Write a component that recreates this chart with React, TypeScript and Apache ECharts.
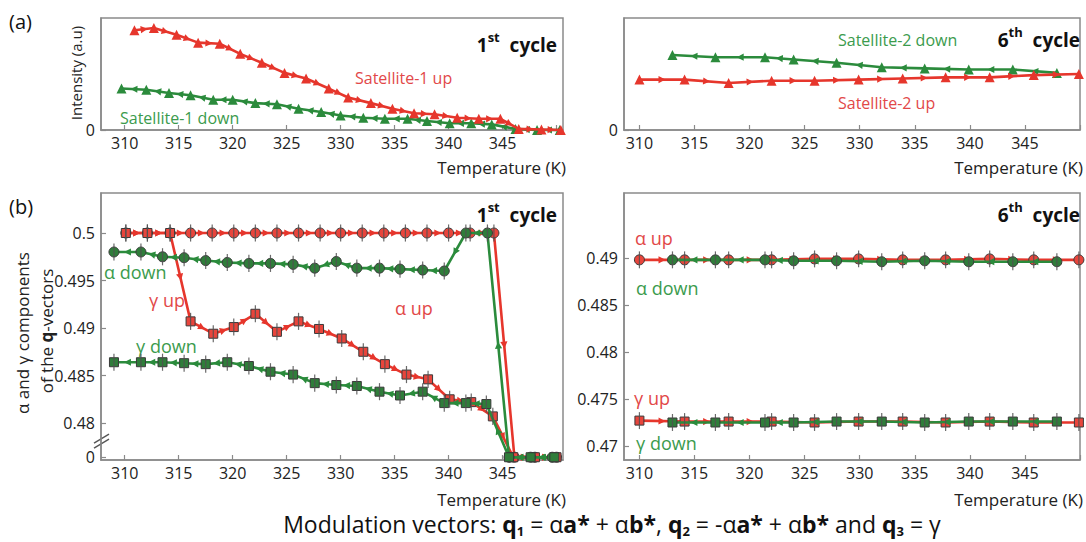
import React, { useEffect, useRef } from 'react';
import * as echarts from 'echarts';

const FONT = '"Open Sans", "Noto Sans", sans-serif';
const RED = '#e6362c';
const GREEN = '#2b8b3c';
const RED_FILL = '#e8453c';
const GREEN_FILL = '#2f7d3a';
const RED_TEXT = '#e24848';
const GREEN_TEXT = '#3b9b4d';
const AXIS = '#8a8a8a';
const MARK_EDGE = '#3a3a3a';

// x axis ticks (Temperature, K)
const xTickLabels = [310, 315, 320, 325, 330, 335, 340, 345];
const xTickMarks = [310, 315, 320, 325, 330, 335, 340, 345, 350];

// (a) 1st cycle — intensity (a.u.)
const sat1UpT = [310.9, 312.7, 314.8, 316.8, 318.8, 320.7, 322.7, 324.8, 326.8, 328.9, 330.7, 332.8, 334.8, 336.8, 338.7, 340.8, 342.8, 344.8, 346.5, 348.6, 350.4];
const sat1UpI = [0.89, 0.91, 0.85, 0.78, 0.77, 0.68, 0.6, 0.51, 0.46, 0.37, 0.29, 0.24, 0.19, 0.15, 0.14, 0.11, 0.1, 0.1, 0.01, 0.005, 0.0];
const sat1DownT = [309.7, 312.0, 314.1, 316.1, 318.2, 320.0, 322.1, 324.1, 326.1, 328.2, 330.0, 332.1, 334.1, 336.2, 338.0, 340.1, 342.1, 344.0, 346.2, 348.2, 350.3];
const sat1DownI = [0.37, 0.36, 0.33, 0.31, 0.27, 0.27, 0.24, 0.23, 0.19, 0.16, 0.13, 0.11, 0.1, 0.1, 0.08, 0.06, 0.06, 0.05, 0.01, 0.0, 0.0];

// (a) 6th cycle
const sat2DownT = [313.0, 316.9, 321.4, 324.0, 327.9, 332.0, 335.9, 339.9, 343.9, 347.9];
const sat2DownI = [0.67, 0.65, 0.65, 0.63, 0.6, 0.56, 0.55, 0.54, 0.54, 0.51];
const sat2UpT = [310.0, 314.1, 318.1, 322.0, 325.9, 329.9, 333.9, 337.8, 341.8, 345.8, 349.9];
const sat2UpI = [0.45, 0.45, 0.42, 0.44, 0.44, 0.45, 0.46, 0.47, 0.47, 0.49, 0.5];

// (b) 1st cycle — alpha / gamma components (0 = below axis break)
const alphaUpT = [310.1, 312.1, 314.2, 316.1, 318.1, 320.1, 322.1, 324.1, 326.1, 328.1, 330.0, 332.0, 334.0, 336.0, 338.0, 340.0, 342.0, 344.2, 346.1, 348.0, 350.0];
const alphaUpV = [0.5, 0.5, 0.5, 0.5, 0.5, 0.5, 0.5, 0.5, 0.5, 0.5, 0.5, 0.5, 0.5, 0.5, 0.5, 0.5, 0.5, 0.5, 0, 0, 0];
const gammaUpT = [310.1, 312.1, 314.2, 316.1, 318.2, 320.1, 322.1, 324.1, 326.1, 328.0, 330.1, 332.1, 334.1, 336.1, 338.1, 340.1, 342.1, 344.1, 346.0, 348.0, 350.0];
const gammaUpV = [0.5, 0.5, 0.5, 0.4907, 0.4894, 0.4901, 0.4915, 0.4896, 0.4907, 0.4899, 0.4889, 0.4875, 0.4862, 0.4851, 0.4846, 0.4825, 0.4822, 0.4807, 0, 0, 0];
const alphaDownT = [309.0, 311.5, 313.5, 315.5, 317.5, 319.5, 321.5, 323.5, 325.6, 327.6, 329.6, 331.5, 333.6, 335.5, 337.6, 339.6, 341.6, 343.6, 345.6, 347.6, 349.6];
const alphaDownV = [0.498, 0.498, 0.4975, 0.4974, 0.4971, 0.4969, 0.4968, 0.4968, 0.4967, 0.4963, 0.497, 0.4963, 0.4963, 0.4962, 0.4961, 0.496, 0.5, 0.5, 0, 0, 0];
const gammaDownT = [309.0, 311.5, 313.5, 315.5, 317.5, 319.5, 321.5, 323.5, 325.6, 327.6, 329.6, 331.5, 333.6, 335.5, 337.6, 339.6, 341.6, 343.5, 345.6, 347.6, 349.8];
const gammaDownV = [0.4864, 0.4864, 0.4864, 0.4863, 0.4862, 0.4864, 0.486, 0.4854, 0.4851, 0.4842, 0.484, 0.4839, 0.4833, 0.4829, 0.4833, 0.4821, 0.4821, 0.482, 0, 0, 0];

// (b) 6th cycle
const alpha6UpT = [310.0, 314.1, 318.1, 322.0, 325.9, 329.9, 333.9, 337.8, 341.8, 345.8, 349.9];
const alpha6UpV = [0.4898, 0.4898, 0.4898, 0.4898, 0.4899, 0.4899, 0.4898, 0.4898, 0.4899, 0.4898, 0.4898];
const gamma6UpV = [0.4727, 0.4726, 0.4726, 0.4726, 0.4725, 0.4726, 0.4726, 0.4725, 0.4726, 0.4725, 0.4725];
const alpha6DownT = [313.0, 316.9, 321.4, 324.0, 327.9, 332.0, 335.9, 339.9, 343.9, 347.9];
const alpha6DownV = [0.4898, 0.4898, 0.4898, 0.4897, 0.4897, 0.4896, 0.4897, 0.4896, 0.4896, 0.4896];
const gamma6DownV = [0.4725, 0.4725, 0.4725, 0.4725, 0.4726, 0.4726, 0.4725, 0.4726, 0.4726, 0.4726];

// y tick values
const yTicksB1 = [0.48, 0.485, 0.49, 0.495, 0.5];
const yTicksB6 = [0.47, 0.475, 0.48, 0.485, 0.49];
const ZERO_POS = 0.4764; // where "0" sits below the broken axis
const ERR = 0.0009;

const zip = (t: number[], v: number[]) => t.map((x, i) => [x, v[i]]);
const brk = (pts: number[][]) => pts.map(([x, v]) => [x, v === 0 ? ZERO_POS : v]);
const segs = (pts: number[][]) => pts.slice(1).map((p, i) => [pts[i][0], pts[i][1], p[0], p[1]]);

function lineSeries(pts: number[][], g: number, color: string, fill: string, symbol: string, size: number, edge: boolean, z = 3) {
  return {
    type: 'line', xAxisIndex: g, yAxisIndex: g, data: pts, symbol, symbolSize: size,
    showSymbol: true, clip: false, silent: true, z,
    lineStyle: { color, width: 2.6 },
    itemStyle: { color: fill, borderColor: edge ? MARK_EDGE : fill, borderWidth: edge ? 1 : 0 },
  };
}

function arrowSeries(pts: number[][], g: number, color: string, dir: number, z = 3) {
  return {
    type: 'custom', xAxisIndex: g, yAxisIndex: g, data: segs(pts), silent: true, z,
    encode: { x: [0, 2], y: [1, 3] },
    renderItem: (params: any, api: any) => {
      const p1 = api.coord([api.value(0), api.value(1)]);
      const p2 = api.coord([api.value(2), api.value(3)]);
      const dx = p2[0] - p1[0], dy = p2[1] - p1[1];
      const len = Math.hypot(dx, dy);
      if (len < 13) return null;
      const ux = (dx / len) * dir, uy = (dy / len) * dir;
      const mx = (p1[0] + p2[0]) / 2, my = (p1[1] + p2[1]) / 2;
      const L = 7, W = 3.6;
      const tip = [mx + (ux * L) / 2, my + (uy * L) / 2];
      const bx = mx - (ux * L) / 2, by = my - (uy * L) / 2;
      return {
        type: 'polygon',
        shape: { points: [tip, [bx - uy * W, by + ux * W], [bx + uy * W, by - ux * W]] },
        style: { fill: color },
      };
    },
  };
}

function errSeries(pts: number[][], g: number) {
  return {
    type: 'custom', xAxisIndex: g, yAxisIndex: g, silent: true, z: 6,
    data: pts.filter((p) => p[1] !== ZERO_POS),
    encode: { x: 0, y: 1 },
    renderItem: (params: any, api: any) => {
      const x = api.value(0), y = api.value(1);
      const a = api.coord([x, y + ERR]);
      const b = api.coord([x, y - ERR]);
      return { type: 'line', shape: { x1: a[0], y1: a[1], x2: b[0], y2: b[1] }, style: { stroke: '#505050', lineWidth: 1.2, opacity: 0.85 } };
    },
  };
}

const grids = [
  { left: 101, top: 18, width: 462, height: 112 },
  { left: 624, top: 18, width: 456, height: 112 },
  { left: 101, top: 193, width: 462, height: 267 },
  { left: 624, top: 193, width: 456, height: 267 },
];

function xAxis(g: number, min: number, max: number) {
  return {
    type: 'value', gridIndex: g, min, max,
    axisLine: { show: true, lineStyle: { color: AXIS, width: 1.5 } },
    axisTick: { show: true, inside: true, length: 5, customValues: xTickMarks, lineStyle: { color: AXIS, width: 1.2 } },
    axisLabel: { customValues: xTickLabels, fontSize: 16, color: '#222', fontFamily: FONT, margin: 5 },
    splitLine: { show: false },
  };
}

function yAxis(g: number, min: number, max: number, ticks: number[], fmt: (v: number) => string) {
  return {
    type: 'value', gridIndex: g, min, max,
    axisLine: { show: true, lineStyle: { color: AXIS, width: 1.5 } },
    axisTick: { show: true, inside: true, length: 5, customValues: ticks, lineStyle: { color: AXIS, width: 1.2 } },
    axisLabel: { customValues: ticks, fontSize: 16, color: '#222', fontFamily: FONT, margin: 6, formatter: fmt },
    splitLine: { show: false },
  };
}

const txt = (x: number, y: number, text: string, color: string, opts: any = {}) => ({
  type: 'text', x, y, silent: true,
  style: { text, fill: color, fontSize: 16, fontFamily: FONT, verticalAlign: 'middle', align: 'left', ...opts },
});

const cycleLabel = (xRight: number, y: number, num: string, sup: string) => ({
  type: 'text', x: xRight, y, silent: true,
  style: {
    text: `{a|${num}}{s|${sup}}{a|  cycle}`,
    align: 'right', verticalAlign: 'middle', fontFamily: FONT,
    rich: {
      a: { fontSize: 19, fontWeight: 'bold', fill: '#111', color: '#111', fontFamily: FONT, lineHeight: 24, verticalAlign: 'bottom' },
      s: { fontSize: 13, fontWeight: 'bold', fill: '#111', color: '#111', fontFamily: FONT, lineHeight: 14, verticalAlign: 'top' },
    },
  },
});

export default function App() {
  const ref = useRef<HTMLDivElement>(null);
  useEffect(() => {
    if (!ref.current) return;
    const chart = echarts.init(ref.current, null, { renderer: 'svg' });

    const s1u = zip(sat1UpT, sat1UpI);
    const s1d = zip(sat1DownT, sat1DownI);
    const s2u = zip(sat2UpT, sat2UpI);
    const s2d = zip(sat2DownT, sat2DownI);
    const au = brk(zip(alphaUpT, alphaUpV));
    const gu = brk(zip(gammaUpT, gammaUpV));
    const ad = brk(zip(alphaDownT, alphaDownV));
    const gd = brk(zip(gammaDownT, gammaDownV));
    const a6u = zip(alpha6UpT, alpha6UpV);
    const g6u = zip(alpha6UpT, gamma6UpV);
    const a6d = zip(alpha6DownT, alpha6DownV);
    const g6d = zip(alpha6DownT, gamma6DownV);

    const fmtB1 = (v: number) => (Math.abs(v - ZERO_POS) < 1e-6 ? '0' : String(+v.toFixed(3)));
    const fmtB6 = (v: number) => String(+v.toFixed(3));

    const option: any = {
      animation: false,
      textStyle: { fontFamily: FONT },
      grid: grids.map((g) => ({ ...g, show: true, borderColor: AXIS, borderWidth: 1.5, backgroundColor: 'transparent' })),
      xAxis: [xAxis(0, 307.8, 350.6), xAxis(1, 308.6, 350), xAxis(2, 307.8, 350.6), xAxis(3, 308.6, 350)],
      yAxis: [
        yAxis(0, 0, 1, [0], () => '0'),
        yAxis(1, 0, 1, [0], () => '0'),
        yAxis(2, 0.47611, 0.50421, [ZERO_POS, ...yTicksB1], fmtB1),
        yAxis(3, 0.46851, 0.49691, yTicksB6, fmtB6),
      ],
      series: [
        // (a) 1st
        lineSeries(s1d, 0, GREEN, GREEN, 'triangle', 10, false),
        arrowSeries(s1d, 0, GREEN, -1),
        lineSeries(s1u, 0, RED, RED, 'triangle', 10, false, 4),
        arrowSeries(s1u, 0, RED, 1, 4),
        // (a) 6th
        lineSeries(s2d, 1, GREEN, GREEN, 'triangle', 10, false),
        arrowSeries(s2d, 1, GREEN, -1),
        lineSeries(s2u, 1, RED, RED, 'triangle', 10, false, 4),
        arrowSeries(s2u, 1, RED, 1, 4),
        // (b) 1st
        errSeries(au, 2), errSeries(gu, 2), errSeries(ad, 2), errSeries(gd, 2),
        lineSeries(au, 2, RED, RED_FILL, 'circle', 10, true),
        arrowSeries(au, 2, RED, 1),
        lineSeries(gu, 2, RED, RED_FILL, 'rect', 9, true),
        arrowSeries(gu, 2, RED, 1),
        lineSeries(ad, 2, GREEN, GREEN_FILL, 'circle', 10, true, 4),
        arrowSeries(ad, 2, GREEN, -1, 4),
        lineSeries(gd, 2, GREEN, GREEN_FILL, 'rect', 9, true, 4),
        arrowSeries(gd, 2, GREEN, -1, 4),
        // (b) 6th
        errSeries(a6u, 3), errSeries(g6u, 3), errSeries(a6d, 3), errSeries(g6d, 3),
        lineSeries(a6u, 3, RED, RED_FILL, 'circle', 10, true),
        arrowSeries(a6u, 3, RED, 1),
        lineSeries(g6u, 3, RED, RED_FILL, 'rect', 9, true),
        arrowSeries(g6u, 3, RED, 1),
        lineSeries(a6d, 3, GREEN, GREEN_FILL, 'circle', 10, true, 4),
        arrowSeries(a6d, 3, GREEN, -1, 4),
        lineSeries(g6d, 3, GREEN, GREEN_FILL, 'rect', 9, true, 4),
        arrowSeries(g6d, 3, GREEN, -1, 4),
      ],
    };
    chart.setOption(option);

    // axis break marks on the (b) 1st-cycle y axis
    const by = chart.convertToPixel({ yAxisIndex: 2 } as any, 0.4783) as unknown as number;
    const bx = grids[2].left;

    chart.setOption({
      graphic: [
        txt(9, 21, '(a)', '#111', { fontSize: 20 }),
        txt(9, 206, '(b)', '#111', { fontSize: 20 }),
        {
          type: 'text', x: 76, y: 73, rotation: Math.PI / 2, silent: true,
          style: { text: 'Intensity (a.u)', fill: '#222', fontSize: 15, fontFamily: FONT, align: 'center', verticalAlign: 'middle' },
        },
        {
          type: 'text', x: 22, y: 333, rotation: Math.PI / 2, silent: true,
          style: { text: 'α and γ components', fill: '#222', fontSize: 17, fontFamily: FONT, align: 'center', verticalAlign: 'middle' },
        },
        {
          type: 'text', x: 46, y: 331, rotation: Math.PI / 2, silent: true,
          style: {
            text: '{n|of the }{b|q}{n|-vectors}', align: 'center', verticalAlign: 'middle', fontFamily: FONT,
            rich: {
              n: { fontSize: 17, fill: '#222', color: '#222', fontFamily: FONT },
              b: { fontSize: 17, fontWeight: 'bold', fill: '#222', color: '#222', fontFamily: FONT },
            },
          },
        },
        txt(566, 167, 'Temperature (K)', '#222', { fontSize: 17, align: 'right' }),
        txt(1083, 167, 'Temperature (K)', '#222', { fontSize: 17, align: 'right' }),
        txt(566, 499, 'Temperature (K)', '#222', { fontSize: 17, align: 'right' }),
        txt(1083, 499, 'Temperature (K)', '#222', { fontSize: 17, align: 'right' }),
        cycleLabel(557, 42, '1', 'st'),
        cycleLabel(1080, 37, '6', 'th'),
        cycleLabel(557, 212, '1', 'st'),
        cycleLabel(1080, 212, '6', 'th'),
        txt(355, 78, 'Satellite-1 up', RED_TEXT),
        txt(120, 118, 'Satellite-1 down', GREEN_TEXT),
        txt(838, 40, 'Satellite-2 down', GREEN_TEXT),
        txt(838, 103, 'Satellite-2 up', RED_TEXT),
        txt(104, 272, 'α down', GREEN_TEXT, { fontSize: 18 }),
        txt(149, 300, 'γ up', RED_TEXT, { fontSize: 18 }),
        txt(395, 308, 'α up', RED_TEXT, { fontSize: 18 }),
        txt(136, 346, 'γ down', GREEN_TEXT, { fontSize: 18 }),
        txt(635, 238, 'α up', RED_TEXT, { fontSize: 18 }),
        txt(636, 288, 'α down', GREEN_TEXT, { fontSize: 18 }),
        txt(634, 398, 'γ up', RED_TEXT, { fontSize: 18 }),
        txt(636, 443, 'γ down', GREEN_TEXT, { fontSize: 18 }),
        { type: 'line', silent: true, shape: { x1: bx - 7, y1: by + 4, x2: bx + 8, y2: by - 5 }, style: { stroke: '#555', lineWidth: 1.4 } },
        { type: 'line', silent: true, shape: { x1: bx - 7, y1: by + 9, x2: bx + 8, y2: by }, style: { stroke: '#555', lineWidth: 1.4 } },
        {
          type: 'text', x: 612, y: 524, silent: true,
          style: {
            text: '{n|Modulation vectors: }{b|q}{d|1}{n| = α}{b|a*}{n| + α}{b|b*}{n|, }{b|q}{d|2}{n| = -α}{b|a*}{n| + α}{b|b*}{n| and }{b|q}{d|3}{n| = γ}',
            align: 'center', verticalAlign: 'middle', fontFamily: FONT,
            rich: {
              n: { fontSize: 23, fill: '#111', color: '#111', fontFamily: FONT, lineHeight: 26 },
              b: { fontSize: 23, fontWeight: 'bold', fill: '#111', color: '#111', fontFamily: FONT, lineHeight: 26 },
              d: { fontSize: 13, fontWeight: 'bold', fill: '#111', color: '#111', fontFamily: FONT, lineHeight: 20, verticalAlign: 'bottom' },
            },
          },
        },
      ],
    });

    return () => chart.dispose();
  }, []);

  return <div ref={ref} style={{ position: 'fixed', left: 0, top: 0, width: 1086, height: 542, background: '#fff' }} />;
}
